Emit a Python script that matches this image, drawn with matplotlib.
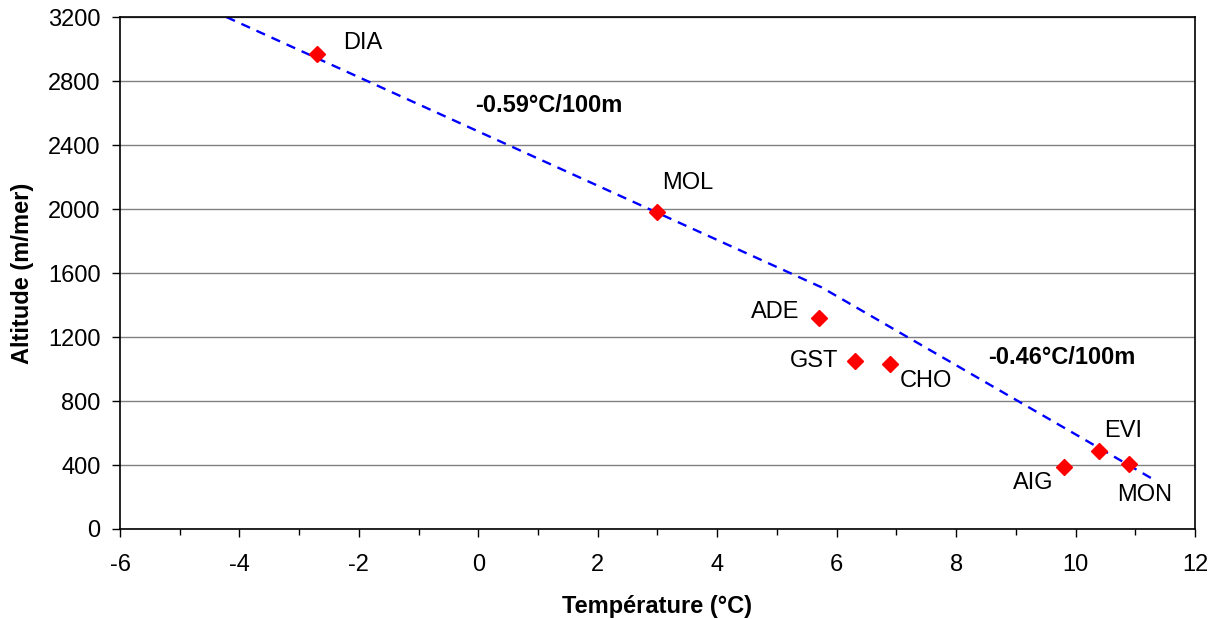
import matplotlib.pyplot as plt
import numpy as np

plt.rcParams['font.family'] = ['Liberation Sans', 'DejaVu Sans']
plt.rcParams['axes.unicode_minus'] = False

# Stations: temperature (°C) and altitude (m/mer)
stations = ['DIA', 'MOL', 'ADE', 'GST', 'CHO', 'AIG', 'EVI', 'MON']
temp = [-2.7, 3.0, 5.7, 6.3, 6.9, 9.8, 10.4, 10.9]
alt = [2970, 1980, 1320, 1050, 1030, 385, 485, 405]

# Gradient line (two segments)
trend_x = [-4.22, 5.75, 11.35]
trend_y = [3200, 1510, 300]
grad_labels = ['-0.59°C/100m', '-0.46°C/100m']
grad_pos = [(-0.05, 2650), (8.54, 1069)]

# label offsets in points (dx, dy, ha)
offsets = {
    'DIA': (19, 8, 'left'), 'MOL': (3.6, 21, 'left'), 'ADE': (-14, 4, 'right'),
    'GST': (-11.5, 0, 'right'), 'CHO': (6.5, -12, 'left'), 'AIG': (-7, -11.5, 'right'),
    'EVI': (3.6, 15, 'left'), 'MON': (-8.6, -22, 'left'),
}

FS = 17

fig = plt.figure(figsize=(12.15, 6.19), dpi=100)
ax = fig.add_axes([0.0988, 0.1454, 0.8847, 0.8271])

ax.plot(trend_x, trend_y, color='blue', lw=1.7, linestyle=(0, (4, 3)), zorder=2)
ax.plot(temp, alt, linestyle='none', marker='D', color='red', markersize=8, zorder=3)

for s, x, y in zip(stations, temp, alt):
    dx, dy, ha = offsets[s]
    ax.annotate(s, (x, y), xytext=(dx, dy), textcoords='offset points',
                ha=ha, va='center', fontsize=FS)

for lab, (x, y) in zip(grad_labels, grad_pos):
    ax.text(x, y, lab, fontsize=FS, fontweight='bold', ha='left', va='center')

ax.set_xlim(-6, 12)
ax.set_ylim(0, 3200)
ax.set_xticks(np.arange(-6, 13, 2))
ax.set_xticks(np.arange(-5, 12, 2), minor=True)
ax.set_yticks(np.arange(0, 3201, 400))
ax.yaxis.grid(True, color='#808080', lw=1)
ax.set_axisbelow(True)
ax.tick_params(axis='both', labelsize=FS, direction='out', length=6, width=1, colors='black')
ax.tick_params(axis='x', pad=12)
ax.tick_params(axis='y', pad=8)
ax.tick_params(axis='x', which='minor', length=4, width=1)
for sp in ax.spines.values():
    sp.set_linewidth(1.2)

ax.set_xlabel('Température (°C)', fontsize=FS, fontweight='bold', labelpad=14)
ax.set_ylabel('Altitude (m/mer)', fontsize=FS, fontweight='bold', labelpad=10)

plt.savefig('out.png', dpi=100)
